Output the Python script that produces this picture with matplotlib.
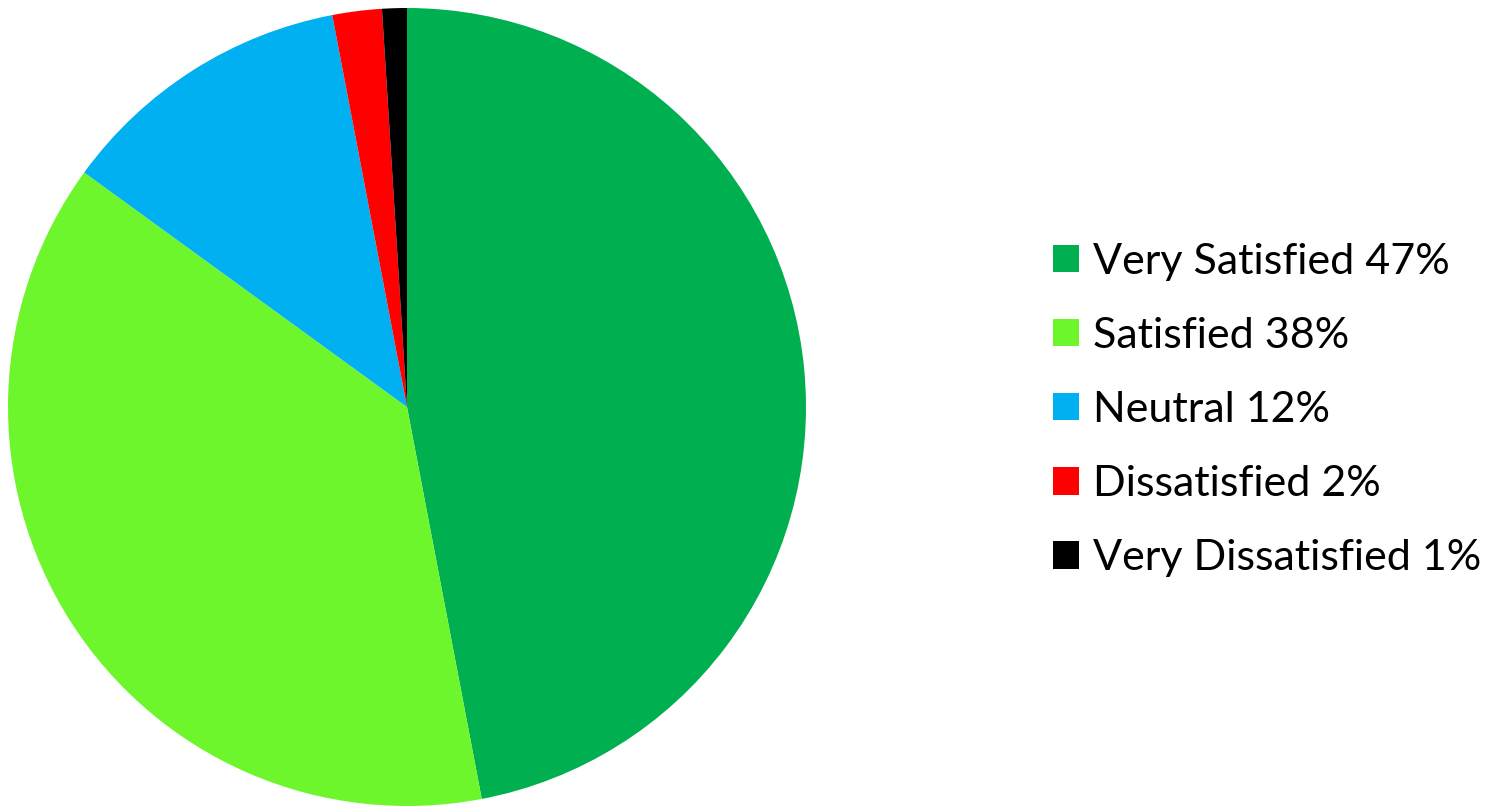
import matplotlib
matplotlib.use("Agg")
import matplotlib.pyplot as plt
from matplotlib.patches import Patch

categories = ["Very Satisfied", "Satisfied", "Neutral", "Dissatisfied", "Very Dissatisfied"]
values = [47, 38, 12, 2, 1]
colors = ["#00B050", "#6EF62C", "#00B0F0", "#FF0000", "#000000"]
labels = [f"{c} {v}%" for c, v in zip(categories, values)]

W, H = 1504, 808
fig = plt.figure(figsize=(W / 100, H / 100), dpi=100)
cx, cy, r = 407, 407, 399
ax = fig.add_axes([(cx - r) / W, (H - cy - r) / H, 2 * r / W, 2 * r / H])
ax.pie(values, colors=colors, startangle=90, counterclock=False, radius=1,
       wedgeprops=dict(linewidth=0, antialiased=True))
ax.set_xlim(-1, 1)
ax.set_ylim(-1, 1)
ax.axis("off")

handles = [Patch(facecolor=c, edgecolor="none") for c in colors]
fs = 31
leg = fig.legend(handles, labels, loc="center left",
                 bbox_to_anchor=(1053 / W, 1 - 410 / H),
                 frameon=False, prop=dict(family="Lato", size=fs),
                 handlelength=0.6, handleheight=0.6, handletextpad=0.33,
                 labelspacing=0.84, borderpad=0, borderaxespad=0)
fig.savefig("out.png", dpi=100)
